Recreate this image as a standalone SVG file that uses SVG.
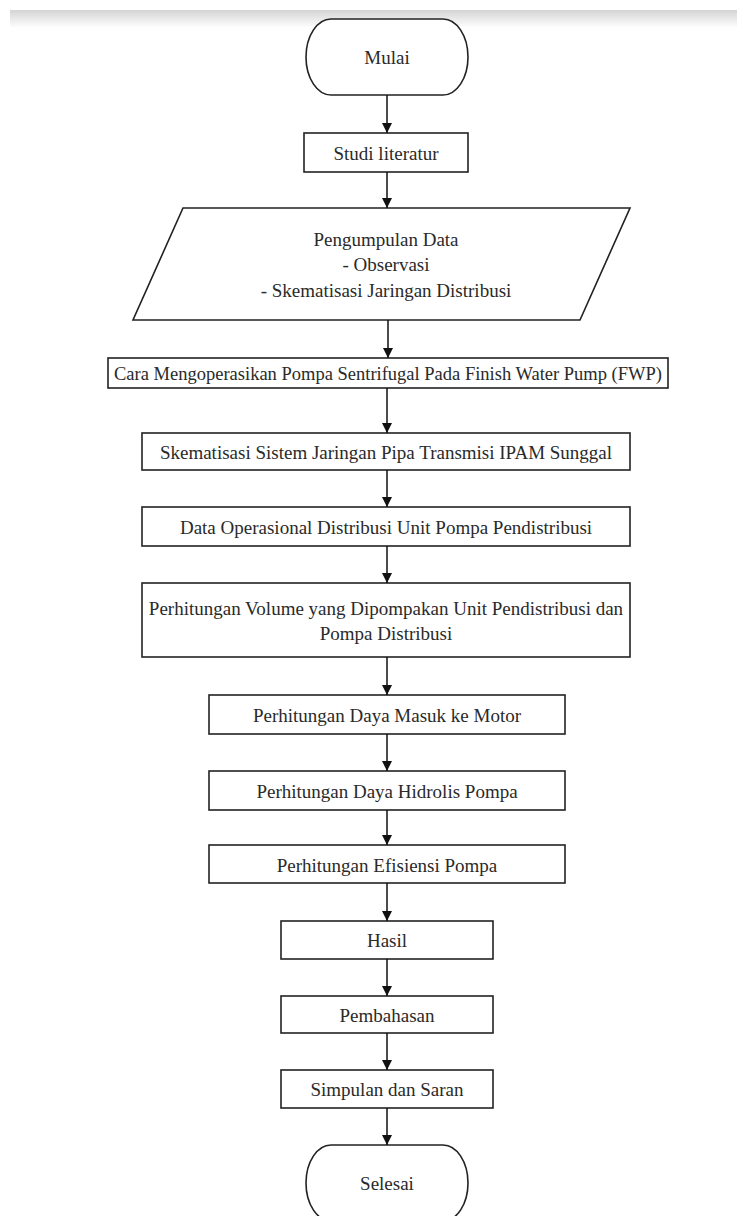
<svg xmlns="http://www.w3.org/2000/svg" width="737" height="1216" viewBox="0 0 737 1216">
<defs>
<linearGradient id="band" x1="0" y1="0" x2="0" y2="1">
<stop offset="0" stop-color="#d4d4d4"/>
<stop offset="1" stop-color="#ffffff"/>
</linearGradient>
<marker id="arr" viewBox="0 0 10 10" refX="10" refY="5" markerWidth="10" markerHeight="10" markerUnits="userSpaceOnUse" orient="auto">
<path d="M0,0 L10,5 L0,10 Z" fill="#111"/>
</marker>
</defs>
<style>
.box{fill:#fff;stroke:#222;stroke-width:1.6}
.t{font-family:"Liberation Serif","Times New Roman",serif;font-size:19px;fill:#2a2a2a;text-anchor:middle;dominant-baseline:central}
.c{stroke:#111;stroke-width:1.5;fill:none;marker-end:url(#arr)}
</style>
<rect x="0" y="0" width="737" height="1216" fill="#fff"/>
<rect x="10" y="10" width="727" height="18" fill="url(#band)"/>
<g id="mulai">
<path class="box" d="M331,19 L443,19 A25,38 0 0 1 443,95 L331,95 A25,38 0 0 1 331,19 Z"/>
<text class="t" x="387" y="57">Mulai</text>
</g>
<g id="studi">
<rect class="box" x="304" y="133" width="164" height="39"/>
<text class="t" x="386" y="153">Studi literatur</text>
</g>
<g id="pengumpulan">
<path class="box" d="M183,208 L630,208 L580,320 L133,320 Z"/>
<text class="t" x="386" y="239">Pengumpulan Data</text>
<text class="t" x="386" y="264">- Observasi</text>
<text class="t" x="386" y="290">- Skematisasi Jaringan Distribusi</text>
</g>
<g id="cara">
<rect class="box" x="108" y="358" width="560" height="30"/>
<text class="t" x="388" y="373" textLength="548" lengthAdjust="spacingAndGlyphs">Cara Mengoperasikan Pompa Sentrifugal Pada Finish Water Pump (FWP)</text>
</g>
<g id="skematisasi">
<rect class="box" x="142" y="433" width="488" height="37"/>
<text class="t" x="386" y="452">Skematisasi Sistem Jaringan Pipa Transmisi IPAM Sunggal</text>
</g>
<g id="data">
<rect class="box" x="142" y="507" width="488" height="39"/>
<text class="t" x="386" y="527">Data Operasional Distribusi Unit Pompa Pendistribusi</text>
</g>
<g id="volume">
<rect class="box" x="142" y="583" width="488" height="74"/>
<text class="t" x="386" y="608">Perhitungan Volume yang Dipompakan Unit Pendistribusi dan</text>
<text class="t" x="386" y="633">Pompa Distribusi</text>
</g>
<g id="daya-masuk">
<rect class="box" x="209" y="695" width="356" height="39"/>
<text class="t" x="387" y="715">Perhitungan Daya Masuk ke Motor</text>
</g>
<g id="daya-hidrolis">
<rect class="box" x="209" y="771" width="356" height="39"/>
<text class="t" x="387" y="791">Perhitungan Daya Hidrolis Pompa</text>
</g>
<g id="efisiensi">
<rect class="box" x="209" y="845" width="356" height="38"/>
<text class="t" x="387" y="865">Perhitungan Efisiensi Pompa</text>
</g>
<g id="hasil">
<rect class="box" x="281" y="921" width="212" height="38"/>
<text class="t" x="387" y="940">Hasil</text>
</g>
<g id="pembahasan">
<rect class="box" x="281" y="996" width="212" height="37"/>
<text class="t" x="387" y="1015">Pembahasan</text>
</g>
<g id="simpulan">
<rect class="box" x="281" y="1070" width="212" height="38"/>
<text class="t" x="387" y="1089">Simpulan dan Saran</text>
</g>
<g id="selesai">
<path class="box" d="M331,1145 L443,1145 A25,38 0 0 1 443,1221 L331,1221 A25,38 0 0 1 331,1145 Z"/>
<text class="t" x="387" y="1183">Selesai</text>
</g>
<g id="connectors">
<line class="c" x1="387" y1="95" x2="387" y2="133"/>
<line class="c" x1="387" y1="172" x2="387" y2="208"/>
<line class="c" x1="388" y1="320" x2="388" y2="358"/>
<line class="c" x1="387" y1="388" x2="387" y2="433"/>
<line class="c" x1="387" y1="470" x2="387" y2="507"/>
<line class="c" x1="387" y1="546" x2="387" y2="583"/>
<line class="c" x1="387" y1="657" x2="387" y2="695"/>
<line class="c" x1="387" y1="734" x2="387" y2="771"/>
<line class="c" x1="387" y1="810" x2="387" y2="845"/>
<line class="c" x1="387" y1="883" x2="387" y2="921"/>
<line class="c" x1="387" y1="959" x2="387" y2="996"/>
<line class="c" x1="387" y1="1033" x2="387" y2="1070"/>
<line class="c" x1="387" y1="1108" x2="387" y2="1145"/>
</g>
</svg>
